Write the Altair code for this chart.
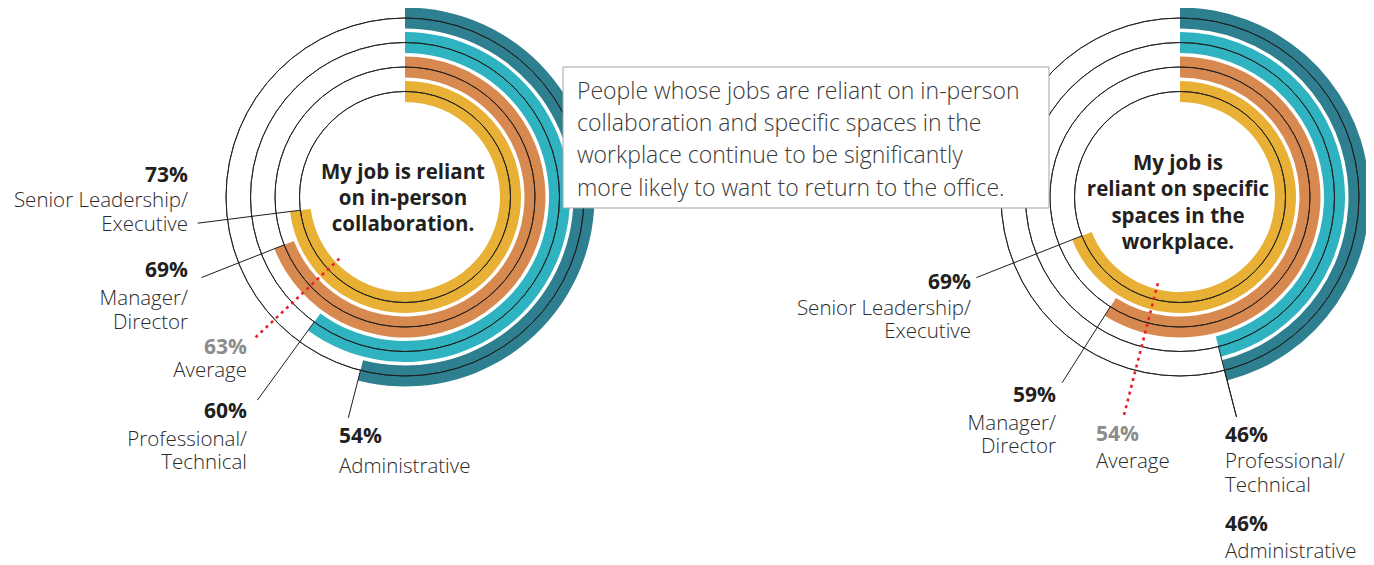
import math
import altair as alt
import pandas as pd

# ---------------- data ----------------
categories = ["Senior Leadership/Executive", "Manager/Director",
              "Professional/Technical", "Administrative"]
label_lines = [["Senior Leadership/", "Executive"], ["Manager/", "Director"],
               ["Professional/", "Technical"], ["Administrative"]]
inperson_values = [73, 69, 60, 54]
spaces_values = [69, 59, 46, 46]
inperson_avg = 63
spaces_avg = 54
colors = ["#e8b136", "#d8894f", "#2fb3c0", "#2e7f8f"]
center_titles = [["My job is reliant", "on in-person", "collaboration."],
                 ["My job is", "reliant on specific", "spaces in the", "workplace."]]
note_lines = ["People whose jobs are reliant on in-person",
              "collaboration and specific spaces in the",
              "workplace continue to be significantly",
              "more likely to want to return to the office."]

# ---------------- layout ----------------
W, H = 1358, 557
CX = [405, 1180]
CY = 197
R0, STEP, THICK = 95.0, 24.5, 21.0
FONT = "Open Sans"
DARK = "#2a2a2a"

xs = alt.Scale(domain=[8, 8 + W], nice=False, zero=False)
ys = alt.Scale(domain=[8, 8 + H], nice=False, zero=False, reverse=True)
ts = alt.Scale(domain=[0, 100], range=[0, 2 * math.pi], nice=False, zero=False)
rs = alt.Scale(type="linear", domain=[0, 4], range=[R0, R0 + 4 * STEP], nice=False, zero=False)

panels = [inperson_values, spaces_values]
avgs = [inperson_avg, spaces_avg]

arc_rows, circ_rows, line_rows, avg_rows = [], [], [], []
# end radius of each leader line (layout)
lead_end = [[209, 219, 251, 228], [219, 220, 227, 227]]
avg_span = [(90, 208), (89, 227)]


def polar(cx, r, pct):
    a = pct / 100.0 * 2 * math.pi
    return cx + r * math.sin(a), CY - r * math.cos(a)


for p, vals in enumerate(panels):
    for i, v in enumerate(vals):
        arc_rows.append(dict(cx=CX[p], cy=CY, t0=0, t1=v, r0=i, r1=i + THICK / STEP,
                             cat=categories[i]))
        circ_rows.append(dict(cx=CX[p], cy=CY, t0=0, t1=100, r=i + THICK / STEP / 2))
        rm = R0 + STEP * i + THICK / 2
        x1, y1 = polar(CX[p], rm, v)
        x2, y2 = polar(CX[p], lead_end[p][i], v)
        line_rows.append(dict(x=x1, y=y1, x2=x2, y2=y2))
    a1, a2 = avg_span[p]
    x1, y1 = polar(CX[p], a1, avgs[p])
    x2, y2 = polar(CX[p], a2, avgs[p])
    avg_rows.append(dict(x=x1, y=y1, x2=x2, y2=y2))

arcs = pd.DataFrame(arc_rows)
circs = pd.DataFrame(circ_rows)
lines = pd.DataFrame(line_rows)
avg_lines = pd.DataFrame(avg_rows)

X = lambda f: alt.X(f, scale=xs, axis=None)
Y = lambda f: alt.Y(f, scale=ys, axis=None)

arc_layer = alt.Chart(arcs).mark_arc().encode(
    x=X("cx:Q"), y=Y("cy:Q"),
    theta=alt.Theta("t0:Q", scale=ts, stack=None), theta2="t1:Q",
    radius=alt.Radius("r0:Q", scale=rs), radius2="r1:Q",
    color=alt.Color("cat:N", scale=alt.Scale(domain=categories, range=colors), legend=None),
)
circ_layer = alt.Chart(circs).mark_arc(fillOpacity=0, stroke="#1e1e1e", strokeWidth=0.9).encode(
    x=X("cx:Q"), y=Y("cy:Q"),
    theta=alt.Theta("t0:Q", scale=ts, stack=None), theta2="t1:Q",
    radius=alt.Radius("r:Q", scale=rs), radius2="r:Q",
)
line_layer = alt.Chart(lines).mark_rule(color="#1e1e1e", strokeWidth=1).encode(
    x=X("x:Q"), y=Y("y:Q"), x2="x2:Q", y2="y2:Q")
avg_layer = alt.Chart(avg_lines).mark_rule(color="#e8202c", strokeWidth=2.6, strokeDash=[3, 4]).encode(
    x=X("x:Q"), y=Y("y:Q"), x2="x2:Q", y2="y2:Q")

box = pd.DataFrame([dict(x=563, x2=1049, y=67, y2=208)])
box_layer = alt.Chart(box).mark_rect(fill="white", stroke="#a3a3a3", strokeWidth=1).encode(
    x=X("x:Q"), x2="x2:Q", y=Y("y:Q"), y2="y2:Q")

# ---------------- text ----------------
def fmt(v):
    return f"{v}%"

# label anchors (layout): (x, baseline of pct, first name line baseline, line gap, align)
anchors = [
    [(188, 182, 207, 24, "right"), (188, 277, 305, 24, "right"),
     (247, 418, 446, 23, "right"), (339, 443, 473, 24, "left")],
    [(971, 289, 315, 23, "right"), (1056, 402, 430, 23, "right"),
     (1225, 442, 468, 24, "left"), (1225, 531, 558, 24, "left")],
]
avg_anchor = [(247, 354, 377, "right"), (1096, 441, 468, "left")]

pct_rows, name_rows, avgp_rows, avgn_rows = [], [], [], []
for p, vals in enumerate(panels):
    for i, v in enumerate(vals):
        x, yp, yn, gap, al = anchors[p][i]
        pct_rows.append(dict(x=x, y=yp, text=fmt(v), al=al))
        for k, t in enumerate(label_lines[i]):
            name_rows.append(dict(x=x, y=yn + k * gap, text=t, al=al))
    x, yp, yn, al = avg_anchor[p]
    avgp_rows.append(dict(x=x, y=yp, text=fmt(avgs[p]), al=al))
    avgn_rows.append(dict(x=x, y=yn, text="Average", al=al))

title_rows = []
title_base = [(403, 179, 26), (1178, 170, 26.3)]
for p, tl in enumerate(center_titles):
    x, y0, gap = title_base[p]
    for k, t in enumerate(tl):
        title_rows.append(dict(x=x, y=y0 + k * gap, text=t, al="center"))

note_rows = [dict(x=577, y=99 + k * 32.2, text=t, al="left") for k, t in enumerate(note_lines)]


def text_layer(rows, **mark):
    layers = []
    df = pd.DataFrame(rows)
    for al in ["left", "right", "center"]:
        sub = df[df.al == al]
        if len(sub):
            layers.append(alt.Chart(sub).mark_text(
                align=al, baseline="alphabetic", font=FONT, **mark).encode(
                x=X("x:Q"), y=Y("y:Q"), text="text:N"))
    return layers


texts = []
texts += text_layer(pct_rows, fontSize=21, fontWeight="bold", color="#231f20")
texts += text_layer(name_rows, fontSize=20.5, fontWeight=300, color=DARK)
texts += text_layer(avgp_rows, fontSize=21, fontWeight="bold", color="#8c8c8c")
texts += text_layer(avgn_rows, fontSize=20.5, fontWeight=300, color=DARK)
texts += text_layer(title_rows, fontSize=20.5, fontWeight="bold", color="#231f20")
texts += text_layer(note_rows, fontSize=23, fontWeight=300, color="#3a3a3a")

chart = alt.layer(arc_layer, circ_layer, box_layer, line_layer, avg_layer, *texts).properties(
    width=W, height=H, padding=0, autosize=alt.AutoSizeParams(type="none"),
    background="white",
).configure_view(stroke=None)

chart.save("out.html", embed_options={"renderer": "svg", "actions": False})
